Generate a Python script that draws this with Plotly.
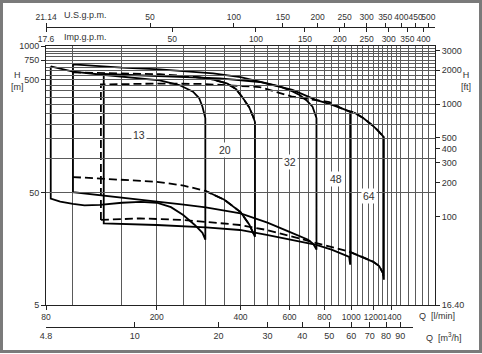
import numpy as np
import plotly.graph_objects as go

# ---------------- axis values ----------------
Q_TICKS = [80, 200, 400, 600, 800, 1000, 1200, 1400]
Q_GRID = list(range(100, 1501, 50)) + [1600, 1700, 1800, 1900]
H_TICKS = [5, 50, 500, 750, 1000]
H_GRID = list(range(50, 1001, 50))
FT_TICKS = [16.404, 100, 200, 300, 400, 500, 1000, 2000, 3000]
FT_TEXT = ["16.40", "100", "200", "300", "400", "500", "1000", "2000", "3000"]
M3H_TICKS = [4.8, 10, 20, 30, 40, 50, 60, 70, 80, 90]
M3H_TEXT = ["4.8", "10", "20", "30", "40", "50", "60", "70", "80", "90"]
US_TICKS = [21.14, 50, 100, 150, 200, 250, 300, 350, 400, 450, 500]
US_TEXT = ["21.14", "50", "100", "150", "200", "250", "300", "350", "400", "450", "500"]
IMP_TICKS = [17.6, 50, 100, 150, 200, 250, 300, 350, 400]
IMP_TEXT = ["17.6", "50", "100", "150", "200", "250", "300", "350", "400"]

Q_MIN, Q_MAX = 80, 2000
H_MIN, H_MAX = 5, 1000
M3H_END = 100
US_GAL, IMP_GAL, FT = 3.78541, 4.54609, 0.3048

# ---------------- curve data (Q l/min, H m) ----------------
M13_TOP_Q = [83.2, 100, 125, 160, 205, 241, 270, 284, 292, 299]
M13_TOP_H = [658, 591, 558, 525, 494, 450, 393, 345, 289, 229]
M13_BOT_Q = [83.2, 90, 100, 110, 125, 150, 175, 200, 225, 249, 274, 292, 299]
M13_BOT_H = [44, 41.5, 39.5, 38.4, 38.8, 40.5, 41.3, 40.5, 37, 31.5, 25.7, 21.9, 19.0]

M20_TOP_Q = [100, 150, 205, 270, 310, 357, 385, 408, 430, 444, 451]
M20_TOP_H = [582, 573, 562, 533, 512, 466, 415, 345, 285, 236, 211]
M20_BOT_Q = [100, 150, 200, 250, 300, 350, 400, 430, 451]
M20_BOT_H = [68.5, 64.5, 62.2, 57.5, 51.5, 43, 33.5, 26, 20.2]

M32_TOP_Q = [100, 150, 205, 260, 319, 400, 469, 553, 615, 652, 690, 726, 750]
M32_TOP_H = [688, 643, 621, 594, 572, 530, 482, 437, 395, 367, 330, 289, 229]
M32_BOT_Q = [100, 150, 200, 250, 300, 400, 500, 600, 700, 730, 750]
M32_BOT_H = [50.2, 44.5, 41.5, 38.9, 36.9, 32.6, 27.0, 22.3, 19.0, 17.5, 15.5]

M48_TOP_Q = [129, 180, 241, 337, 469, 615, 750, 834, 950, 991]
M48_TOP_H = [564, 547, 534, 515, 479, 407, 331, 306, 272, 259]
M48_BOT_Q = [129, 160, 200, 300, 398, 497, 600, 749, 850, 940, 983, 991]
M48_BOT_H = [26.6, 26.2, 25.7, 24.5, 23.2, 21.0, 19.2, 17.1, 15.5, 14.0, 13.4, 11.4]

M64_TOP_Q = [126, 205, 292, 469, 615, 834, 947, 1024, 1104, 1190, 1240, 1310]
M64_TOP_H = [455, 464, 460, 432, 354, 318, 270, 257, 229, 198, 180, 155]
M64_BOT_Q = [126, 174, 249, 398, 497, 750, 983, 1100, 1200, 1260, 1300, 1310]
M64_BOT_H = [28.5, 29.4, 28.5, 25.7, 23.2, 17.7, 14.9, 13.3, 12.1, 11.1, 9.6, 8.4]

LABELS = ["13", "20", "32", "48", "64"]
LABEL_Q = [173, 352, 604, 884, 1156]
LABEL_H = [162, 119, 92.4, 66.2, 46.4]

# ---------------- layout geometry ----------------
W, HGT = 482, 354
ML, MR = 46, 47
PW = W - ML - MR
PLOT_TOP, PLOT_BOT = 46, 305


def py(px):
    return (HGT - px) / HGT


def pxr(px):
    return (px - ML) / PW


fig = go.Figure()
LINE = dict(color="black", width=1.8)
DASH = dict(color="black", width=1.8, dash="8px,4px")


def add(q, h, style, **kw):
    fig.add_trace(go.Scatter(x=q, y=h, mode="lines", line=style,
                             hoverinfo="skip", showlegend=False, **kw))


def outline(tq, th, bq, bh):
    return (list(tq) + list(bq)[::-1] + [tq[0]],
            list(th) + list(bh)[::-1] + [th[0]])


# model 13 (solid)
add(*outline(M13_TOP_Q, M13_TOP_H, M13_BOT_Q, M13_BOT_H), LINE)
# model 32 (solid)
add(*outline(M32_TOP_Q, M32_TOP_H, M32_BOT_Q, M32_BOT_H), LINE)
# model 48 (solid)
add(*outline(M48_TOP_Q, M48_TOP_H, M48_BOT_Q, M48_BOT_H), LINE)
# model 20 (dashed, solid end)
add(M20_TOP_Q, M20_TOP_H, DASH)
add(M20_BOT_Q, M20_BOT_H, DASH)
i_t = M20_TOP_Q.index(270)
i_b = M20_BOT_Q.index(300)
add(M20_TOP_Q[i_t:] + M20_BOT_Q[i_b:][::-1], M20_TOP_H[i_t:] + M20_BOT_H[i_b:][::-1], LINE)
# model 64 (dashed, solid end)
add([M64_BOT_Q[0]] + M64_TOP_Q, [M64_BOT_H[0]] + M64_TOP_H, DASH)
add(M64_BOT_Q, M64_BOT_H, DASH)
i_t = M64_TOP_Q.index(1024)
i_b = M64_BOT_Q.index(983)
add(M64_TOP_Q[i_t:] + M64_BOT_Q[i_b:][::-1], M64_TOP_H[i_t:] + M64_BOT_H[i_b:][::-1], LINE)

# invisible anchors for secondary axes
inv = dict(mode="markers", marker=dict(opacity=0), hoverinfo="skip", showlegend=False)
fig.add_trace(go.Scatter(x=[100], y=[100], xaxis="x", yaxis="y2", **inv))
fig.add_trace(go.Scatter(x=[10], y=[100], xaxis="x2", yaxis="y", **inv))
fig.add_trace(go.Scatter(x=[100], y=[100], xaxis="x3", yaxis="y", **inv))
fig.add_trace(go.Scatter(x=[100], y=[100], xaxis="x4", yaxis="y", **inv))

FAM = "Liberation Sans, Arial, sans-serif"
FONT = dict(family=FAM, size=9, color="#333")
FONT_S = dict(family=FAM, size=8.5, color="#333")
GRID = "#5a5a5a"
ydom = [py(PLOT_BOT), py(PLOT_TOP)]
top_pos = py(27)

common = dict(showline=True, linecolor="#222", linewidth=1, automargin=False, tickangle=0,
              tickfont=FONT, ticks="outside", ticklen=4, tickcolor="#222", zeroline=False)

fig.update_layout(
    width=W, height=HGT,
    margin=dict(l=ML, r=MR, t=0, b=0),
    paper_bgcolor="white", plot_bgcolor="rgba(0,0,0,0)",
    font=FONT,
    xaxis=dict(type="log", range=[np.log10(Q_MIN), np.log10(Q_MAX)], domain=[0, 1],
               anchor="y", tickmode="array", tickvals=Q_TICKS, ticktext=[str(v) for v in Q_TICKS],
               showgrid=True, gridcolor=GRID, gridwidth=1, mirror=True,
               minor=dict(tickmode="array", tickvals=Q_GRID, showgrid=True, gridcolor=GRID,
                          gridwidth=1, ticks=""),
               **{**common, "tickfont": FONT_S}),
    yaxis=dict(type="log", range=[np.log10(H_MIN), np.log10(H_MAX)], domain=ydom,
               anchor="x", tickmode="array", tickvals=H_TICKS, ticktext=[str(v) for v in H_TICKS],
               showgrid=True, gridcolor=GRID, gridwidth=1, mirror=True,
               minor=dict(tickmode="array", tickvals=H_GRID, showgrid=True, gridcolor=GRID,
                          gridwidth=1, ticks=""),
               **common),
    yaxis2=dict(type="log", range=[np.log10(H_MIN / FT), np.log10(H_MAX / FT)], domain=ydom,
                overlaying="y", side="right", anchor="x", tickmode="array",
                tickvals=FT_TICKS, ticktext=FT_TEXT, showgrid=False, **common),
    xaxis2=dict(type="log", range=[np.log10(Q_MIN * 0.06), np.log10(M3H_END)],
                domain=[0, np.log10(M3H_END / (Q_MIN * 0.06)) / np.log10(Q_MAX / Q_MIN)],
                anchor="free", position=py(327), side="bottom", tickmode="array",
                tickvals=M3H_TICKS, ticktext=M3H_TEXT, showgrid=False,
                **{**common, "ticks": "inside", "ticklen": 5}),
    xaxis3=dict(type="log", range=[np.log10(Q_MIN / US_GAL), np.log10(Q_MAX / US_GAL)],
                domain=[0, 1], anchor="free", position=top_pos, side="top", tickmode="array",
                tickvals=US_TICKS, ticktext=US_TEXT, showgrid=False,
                **{**common, "tickfont": FONT_S}),
    xaxis4=dict(type="log", range=[np.log10(Q_MIN / IMP_GAL), np.log10(Q_MAX / IMP_GAL)],
                domain=[0, 1], anchor="free", position=top_pos, side="bottom", tickmode="array",
                tickvals=IMP_TICKS, ticktext=IMP_TEXT, showgrid=False,
                **{**common, "tickfont": FONT_S}),
)

ann = []
for t, q, h in zip(LABELS, LABEL_Q, LABEL_H):
    ann.append(dict(x=np.log10(q), y=np.log10(h), xref="x", yref="y", text=t, showarrow=False,
                    xanchor="center", yanchor="middle",
                    font=dict(family=FAM, size=10.5, color="#333"), bgcolor="white"))


def pa(text, x, y, xanchor="center"):
    return dict(x=pxr(x), y=py(y), xref="paper", yref="paper", text=text, showarrow=False,
                xanchor=xanchor, yanchor="middle", font=FONT)


ann += [
    pa("H<br>[m]", 17, 81),
    pa("H<br>[ft]", 466, 81),
    pa("Q  [l/min]", 417, 316, "left"),
    pa("Q  [m<sup>3</sup>/h]", 424, 337, "left"),
    pa("U.S.g.p.m.", 62, 15, "left"),
    pa("Imp.g.p.m.", 62, 37, "left"),
]
fig.update_layout(annotations=ann)

fig.add_shape(type="rect", xref="paper", yref="paper", x0=pxr(1.5), x1=pxr(480.5),
              y0=py(351.5), y1=py(1.5), line=dict(color="#7a7a7a", width=3), layer="above")

fig.write_html("out.html")
